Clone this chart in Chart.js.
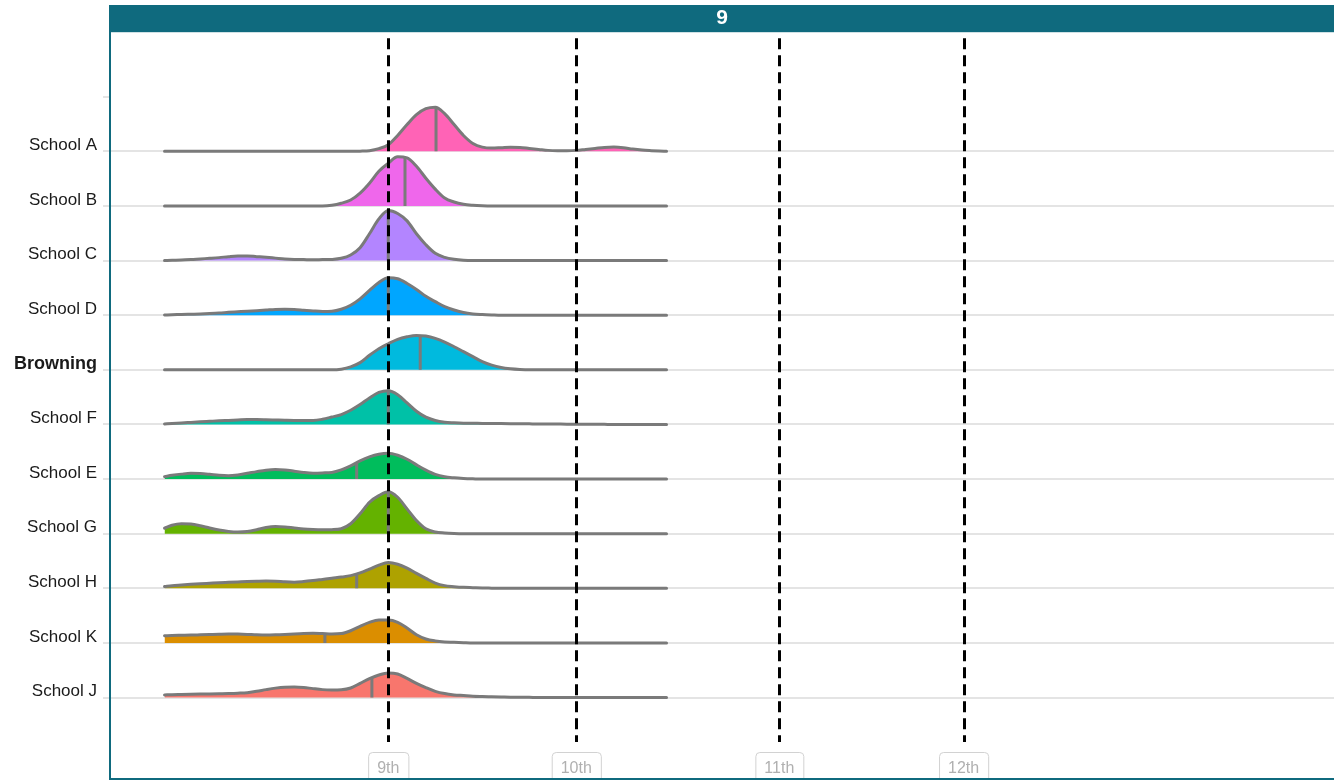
<!DOCTYPE html>
<html>
<head>
<meta charset="utf-8">
<script src="https://cdn.jsdelivr.net/npm/chart.js@4/dist/chart.umd.min.js"></script>
<style>
html,body{margin:0;padding:0;background:#fff;}
canvas{display:block;}
</style>
</head>
<body>
<canvas id="c" width="1334" height="780"></canvas>
<script>
// ---- data ----
const PANEL_TITLE = '9';
const SCHOOLS = ['School A','School B','School C','School D','Browning','School F','School E','School G','School H','School K','School J'];
const COLORS  = ['#FF63B6','#EF67EB','#B385FF','#00A6FF','#00BADE','#00C1A7','#00BD5C','#64B200','#AEA200','#DB8E00','#F8766D'];
const GRADE_VALUES = [9, 10, 11.08, 12.06];
const GRADE_LABELS = ['9th','10th','11th','12th'];
const ROW_STEP = 55;

// x grid of the density estimates
const XS = [7.81,7.85,7.90,7.95,8.00,8.05,8.10,8.15,8.20,8.25,8.30,8.35,8.40,8.45,8.50,8.55,8.60,8.65,8.70,8.75,
            8.80,8.85,8.90,8.95,9.00,9.05,9.10,9.15,9.20,9.25,9.30,9.35,9.40,9.45,9.50,9.55,9.60,9.65,9.70,9.75,
            9.80,9.85,9.90,9.95,10.00,10.05,10.10,10.15,10.20,10.25,10.30,10.35,10.40,10.44,10.48];

// density heights (scaled, one row = 55)
const DENS_A = [0,0,0,0,0,0,0,0,0,0,0,0,0,0,0,0,0,0,0,0,
                0,0.2,0.7,2.7,6.7,16,27,37,43,44.5,38,27,16,8,4.3,3.3,3.7,4.2,4,3,
                2,1,0.7,0.7,1,2,3,4,4.3,3.7,2.3,1.3,0.7,0.3,0];
const DENS_B = [0,0,0,0,0,0,0,0,0,0,0,0,0,0,0,0,0,0,0.7,2.7,
                6,13,23,35,43,49.5,48.5,40,28,17,8,4,1.7,0.7,0.2,0,0,0,0,0,
                0,0,0,0,0,0,0,0,0,0,0,0,0,0,0];
const DENS_C = [0,0.3,0.7,1,1.7,2.3,3,4,4.7,4.7,4,3.3,2.5,1.7,1.2,1,0.8,1,1.2,2.3,
                5.7,13,27,42,50.5,47.5,40,27,16,7.3,3.3,1.3,0.3,0,0,0,0,0,0,0,
                0,0,0,0,0,0,0,0,0,0,0,0,0,0,0];
const DENS_D = [0.2,0.5,0.7,1,1.3,1.7,2.2,2.9,3.5,4.1,4.6,5.2,5.8,6,5.7,5,4.3,3.8,4,6,
                10,16.5,25,33,37.7,36.7,32,26,19,13.7,8.7,5.3,2.7,1.3,0.7,0.3,0,0,0,0,
                0,0,0,0,0,0,0,0,0,0,0,0,0,0,0];
const DENS_BROWNING = [0,0,0,0,0,0,0,0,0,0,0,0,0,0,0,0,0,0,0,0.7,
                3,7.3,14.7,21.3,26.3,30.7,33.3,34.7,34,31.7,28,23.3,18.3,13.3,8.3,4.7,2.3,1,0.3,0,
                0,0,0,0,0,0,0,0,0,0,0,0,0,0,0];
const DENS_F = [0.5,1,1.5,2.1,2.7,3.2,3.7,4.1,4.5,4.9,5,4.8,4.5,4.2,4,4,4,5.2,7.5,10,
                14.3,20,26.7,32.3,34,30,21.7,13.3,7.3,4,2.3,1.7,1.3,1.2,1.1,1,0.9,0.8,0.7,0.6,
                0.5,0.5,0.4,0.3,0.3,0.2,0.2,0.1,0,0,0,0,0,0,0];
const DENS_E = [2.5,3.8,5,5.8,5.6,4.8,3.8,3.4,4.2,5.8,7.5,9,9.7,9.2,8,6.7,6,6.2,6.7,9.3,
                13.3,18.3,22.3,25,26,24,20,14.3,9,4.7,2.3,1.3,0.7,0.3,0,0,0,0,0,0,
                0,0,0,0,0,0,0,0,0,0,0,0,0,0,0];
const DENS_G = [5.5,8.5,10,9.7,8,5.7,3.7,2.3,1.7,2.2,4,6.3,7.3,6.8,5.7,4.7,4.2,4,4.1,5,
                10,20,31.7,38.3,42.3,36.7,25,13.3,5,1.7,0.7,0.2,0,0,0,0,0,0,0,0,
                0,0,0,0,0,0,0,0,0,0,0,0,0,0,0];
const DENS_H = [1.8,2.6,3.3,4,4.6,5.1,5.6,6,6.4,6.8,7.1,7.3,7.2,6.5,6.2,6.8,7.8,9,10.2,11.3,
                12.8,15.5,19.3,23.3,26,24.3,20.3,15,10,5.3,2.7,1.7,1,0.7,0.4,0.2,0,0,0,0,
                0,0,0,0,0,0,0,0,0,0,0,0,0,0,0];
const DENS_K = [7.3,7.5,7.7,7.9,8.2,8.5,8.8,9,8.9,8.6,8.2,8,8.2,8.6,9.1,9.5,9.7,9.4,9,9.4,
                12.3,16.7,20.7,23,23,20.7,15,8.3,4,2,1,0.7,0.3,0,0,0,0,0,0,0,
                0,0,0,0,0,0,0,0,0,0,0,0,0,0,0];
const DENS_J = [2.7,2.9,3.1,3.3,3.5,3.7,3.9,4.1,4.4,4.9,6.3,8,9.5,10.5,10.7,10.2,9,8,7.7,7.9,
                9.6,14.3,19,22.7,24.7,23.7,19.3,14.3,10,6.3,4,2.7,2,1.3,1,0.8,0.6,0.4,0.3,0.2,
                0,0,0,0,0,0,0,0,0,0,0,0,0,0,0];
const DENSITIES = [DENS_A,DENS_B,DENS_C,DENS_D,DENS_BROWNING,DENS_F,DENS_E,DENS_G,DENS_H,DENS_K,DENS_J];
const MEDIANS = [9.254, 9.089, 9.0, 9.0, 9.17, 9.0, 8.832, 9.0, 8.832, 8.663, 8.913];

// ---- helpers ----
const FONT = "'Liberation Sans', Arial, Helvetica, sans-serif";
const TEAL = '#0f6a7e';
const OUTLINE = '#7a7a7a';
const N = SCHOOLS.length;
const baseOf = i => (N - 1 - i) * ROW_STEP;
const TOP_TICK = N * ROW_STEP;

function interp(xs, ys, x) {
  for (let i = 0; i < xs.length - 1; i++) {
    if (x >= xs[i] && x <= xs[i + 1]) {
      const t = (x - xs[i]) / (xs[i + 1] - xs[i]);
      return ys[i] + t * (ys[i + 1] - ys[i]);
    }
  }
  return 0;
}

const datasets = [];
SCHOOLS.forEach((name, i) => {
  const base = baseOf(i);
  datasets.push({
    label: name,
    data: XS.map((x, k) => ({ x: x, y: base + DENSITIES[i][k] })),
    borderColor: OUTLINE,
    borderWidth: 3,
    backgroundColor: COLORS[i],
    fill: { value: base },
    pointRadius: 0,
    cubicInterpolationMode: 'monotone',
    borderCapStyle: 'round',
    borderJoinStyle: 'round',
    order: 1
  });
});
SCHOOLS.forEach((name, i) => {
  const base = baseOf(i);
  const m = MEDIANS[i];
  datasets.push({
    label: name + ' median',
    data: [{ x: m, y: base }, { x: m, y: base + interp(XS, DENSITIES[i], m) }],
    borderColor: OUTLINE,
    borderWidth: 3,
    pointRadius: 0,
    fill: false,
    order: 0
  });
});

const decorPlugin = {
  id: 'decor',
  beforeDraw(chart) {
    const ctx = chart.ctx;
    const tb = chart.titleBlock;
    ctx.save();
    ctx.fillStyle = TEAL;
    ctx.fillRect(chart.chartArea.left, tb.top, chart.chartArea.right - chart.chartArea.left, tb.bottom - tb.top);
    ctx.restore();
  },
  afterDatasetsDraw(chart) {
    const ctx = chart.ctx;
    const ca = chart.chartArea;
    const xs = chart.scales.x;
    ctx.save();
    ctx.strokeStyle = '#000';
    ctx.lineWidth = 3;
    ctx.setLineDash([11, 6]);
    GRADE_VALUES.forEach(v => {
      const px = Math.round(xs.getPixelForValue(v)) + 0.5;
      ctx.beginPath();
      ctx.moveTo(px, ca.top + 6);
      ctx.lineTo(px, ca.bottom - 37);
      ctx.stroke();
    });
    ctx.restore();
  },
  afterDraw(chart) {
    const ctx = chart.ctx;
    const ca = chart.chartArea;
    const xs = chart.scales.x;
    const tb = chart.titleBlock;
    ctx.save();
    ctx.font = '16px ' + FONT;
    ctx.textAlign = 'center';
    ctx.textBaseline = 'middle';
    GRADE_VALUES.forEach((v, i) => {
      const px = xs.getPixelForValue(v);
      const tw = ctx.measureText(GRADE_LABELS[i]).width;
      const w = tw + 18, h = 32;
      const left = px - w / 2, top = ca.bottom - 27;
      ctx.beginPath();
      ctx.roundRect(left + 0.5, top + 0.5, w, h, 4);
      ctx.fillStyle = '#fff';
      ctx.fill();
      ctx.strokeStyle = '#d2d2d2';
      ctx.lineWidth = 1;
      ctx.stroke();
      ctx.fillStyle = '#b0b0b0';
      ctx.fillText(GRADE_LABELS[i], px, top + 17);
    });
    // panel frame
    ctx.strokeStyle = TEAL;
    ctx.lineWidth = 2;
    ctx.beginPath();
    ctx.moveTo(ca.left, tb.top);
    ctx.lineTo(ca.left, ca.bottom);
    ctx.lineTo(ca.right, ca.bottom);
    ctx.stroke();
    ctx.restore();
  }
};

new Chart(document.getElementById('c'), {
  type: 'line',
  data: { datasets: datasets },
  options: {
    responsive: false,
    animation: false,
    devicePixelRatio: 1,
    layout: { padding: { top: 5, bottom: 1, left: 0, right: 0 } },
    plugins: {
      legend: { display: false },
      tooltip: { enabled: false },
      title: {
        display: true,
        text: PANEL_TITLE,
        color: '#ffffff',
        fullSize: false,
        font: { family: FONT, size: 21, weight: 'bold', lineHeight: 1.2 },
        padding: { top: 1, bottom: 1 }
      }
    },
    scales: {
      x: {
        type: 'linear',
        min: 7.52,
        max: 14.03,
        display: false
      },
      y: {
        type: 'linear',
        min: -82,
        max: 670,
        afterBuildTicks(scale) {
          const t = SCHOOLS.map((_, i) => ({ value: baseOf(i) }));
          t.push({ value: TOP_TICK });
          scale.ticks = t;
        },
        afterFit(scale) {
          scale.width = 110;
          scale.paddingTop = 0;
          scale.paddingBottom = 0;
        },
        border: { display: false },
        grid: {
          color: ctx => (ctx.tick && ctx.tick.value === TOP_TICK) ? 'rgba(0,0,0,0)' : '#e4e4e4',
          tickColor: '#e4e4e4',
          lineWidth: 2,
          tickLength: 7,
          drawTicks: true
        },
        ticks: {
          padding: 6,
          labelOffset: -6,
          color: '#1a1a1a',
          autoSkip: false,
          font: ctx => {
            const v = ctx.tick ? ctx.tick.value : null;
            const idx = SCHOOLS.findIndex((_, i) => baseOf(i) === v);
            if (idx >= 0 && SCHOOLS[idx] === 'Browning') return { family: FONT, size: 18, weight: 'bold' };
            return { family: FONT, size: 17 };
          },
          callback: function(value) {
            const idx = SCHOOLS.findIndex((_, i) => baseOf(i) === value);
            return idx >= 0 ? SCHOOLS[idx] : '';
          }
        }
      }
    }
  },
  plugins: [decorPlugin]
});
</script>
</body>
</html>
